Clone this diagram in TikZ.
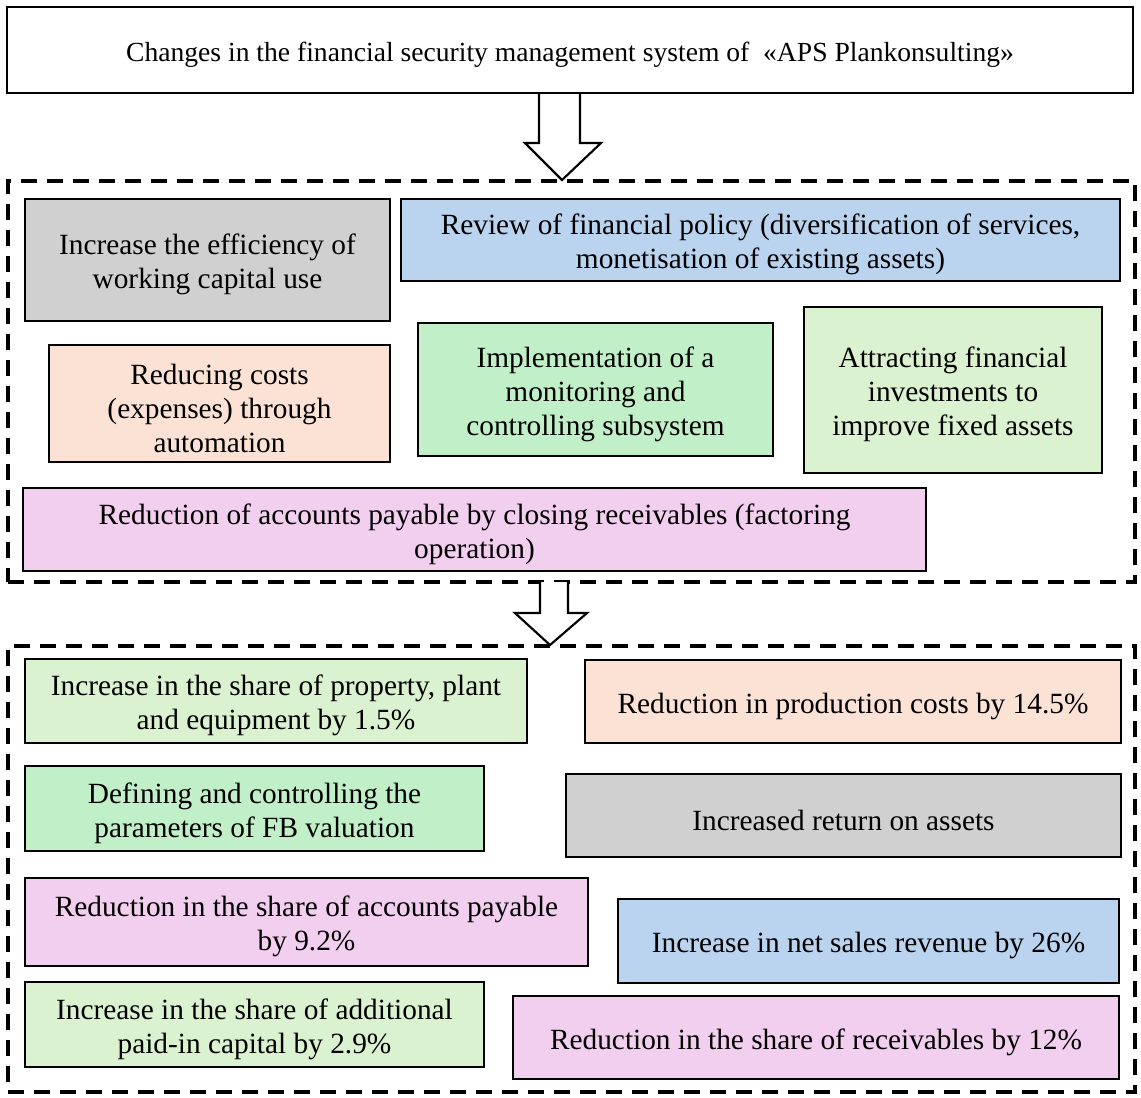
\documentclass[tikz,border=0pt]{standalone}
\usepackage{fontspec}
\setmainfont{Liberation Serif}
\definecolor{cgray}{HTML}{D0D0D0}
\definecolor{cblue}{HTML}{BAD4EF}
\definecolor{corange}{HTML}{FBE2D5}
\definecolor{cgreen}{HTML}{C1F0C8}
\definecolor{clgreen}{HTML}{DAF2D0}
\definecolor{cpink}{HTML}{F2CEEF}
% \mybox[text style]{name}{box style}{x1}{y1}{x2}{y2}{text}
\newcommand\mybox[8][]{%
  \node[box,#3,minimum width={(#6-#4)*0.75pt},minimum height={(#7-#5)*0.75pt}]
    (#2) at ({(#4+#6)/2},{(#5+#7)/2}) {};
  \node[txt,#1] (#2t) at ([yshift=-3.5pt]#2.center) {#8};}
\begin{document}
\begin{tikzpicture}[x=0.75pt,y=-0.75pt,
  box/.style={draw=black, line width=1.8pt, inner sep=0pt},
  txt/.style={inner sep=0pt, align=center, font=\fontsize{22}{25.5}\selectfont},
  dbox/.style={draw=black, line width=2.3pt, dash pattern=on 12pt off 7.5pt, inner sep=0pt},
  barrow/.style={draw=black, line width=1.6pt, fill=white, line join=miter}]
\path[use as bounding box] (0,0) rectangle (1141,1097);

% dashed groups
\node[dbox, minimum width={1127*0.75pt}, minimum height={401*0.75pt}] (d1) at (571.5,381.5) {};
\node[dbox, minimum width={1127*0.75pt}, minimum height={446*0.75pt}] (d2) at (571.5,869) {};

% block arrows
\coordinate (a1e) at (562,180);
\draw[barrow] (539,93) -- (539,143) -- (525,143) -- (a1e) -- (601,143) -- (580,143) -- (580,93);
\coordinate (a2e) at (550,645);
\draw[barrow] (540,582) -- (540,613) -- (515,613) -- (a2e) -- (587,613) -- (568,613) -- (568,582);

% title
\mybox[font=\fontsize{20.7}{24}\selectfont]{top}{line width=1.5pt, fill=white}{7}{7}{1133}{93}
  {Changes in the financial security management system of \ «APS Plankonsulting»}

% measures
\mybox{g1}{fill=cgray}{25}{199}{390}{321}
  {Increase the efficiency of\\working capital use}
\mybox{b1}{fill=cblue}{401}{199}{1120}{281}
  {Review of financial policy (diversification of services,\\monetisation of existing assets)}
\mybox{o1}{fill=corange}{49}{345}{390}{462}
  {Reducing costs\\(expenses) through\\automation}
\mybox{m1}{fill=cgreen}{418}{323}{773}{456}
  {Implementation of a\\monitoring and\\controlling subsystem}
\mybox{a1}{fill=clgreen}{804}{307}{1102}{473}
  {Attracting financial\\investments to\\improve fixed assets}
\mybox{p1}{fill=cpink}{23}{488}{926}{571}
  {Reduction of accounts payable by closing receivables (factoring\\operation)}

% results
\mybox{e1}{fill=clgreen}{25}{659}{527}{743}
  {Increase in the share of property, plant\\and equipment by 1.5\%}
\mybox{e2}{fill=corange}{585}{660}{1121}{743}
  {Reduction in production costs by 14.5\%}
\mybox{e3}{fill=cgreen}{25}{766}{484}{851}
  {Defining and controlling the\\parameters of FB valuation}
\mybox{e4}{fill=cgray}{566}{774}{1121}{857}
  {Increased return on assets}
\mybox{e5}{fill=cpink}{25}{878}{588}{966}
  {Reduction in the share of accounts payable\\by 9.2\%}
\mybox{e6}{fill=cblue}{618}{899}{1119}{983}
  {Increase in net sales revenue by 26\%}
\mybox{e7}{fill=clgreen}{25}{982}{484}{1067}
  {Increase in the share of additional\\paid-in capital by 2.9\%}
\mybox{e8}{fill=cpink}{513}{996}{1119}{1079}
  {Reduction in the share of receivables by 12\%}
\end{tikzpicture}
\end{document}
